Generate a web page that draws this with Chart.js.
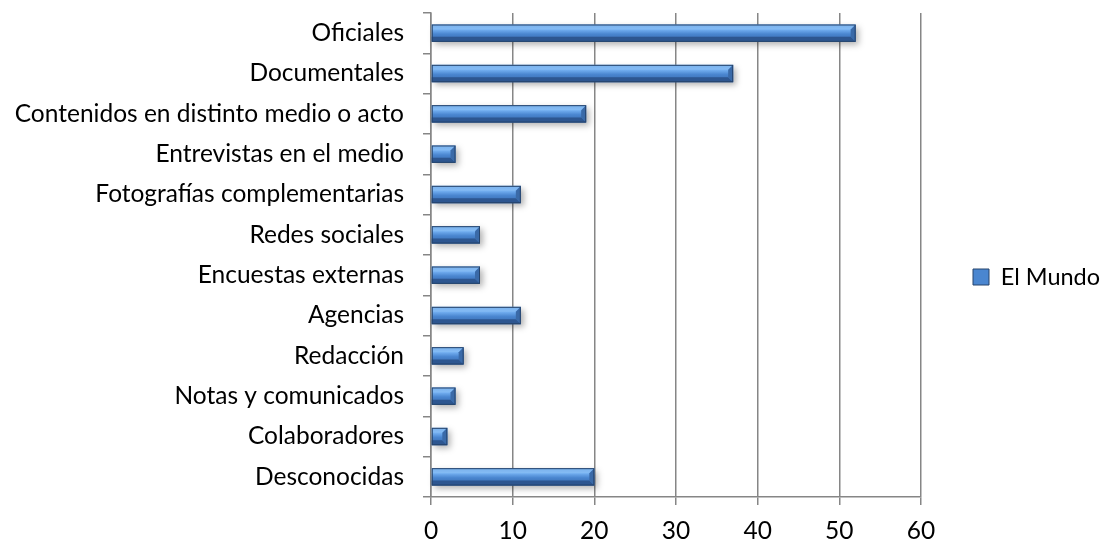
<!DOCTYPE html>
<html>
<head>
<meta charset="utf-8">
<script src="https://cdn.jsdelivr.net/npm/chart.js@4.4.0/dist/chart.umd.min.js"></script>
<style>
  html, body { margin: 0; padding: 0; background: #fff; }
  #wrap { width: 1102px; height: 541px; }
</style>
</head>
<body>
<div id="wrap"><canvas id="myChart" width="1102" height="541"></canvas></div>
<script>
const categories = ['Oficiales', 'Documentales', 'Contenidos en distinto medio o acto',
  'Entrevistas en el medio', 'Fotografías complementarias', 'Redes sociales',
  'Encuestas externas', 'Agencias', 'Redacción', 'Notas y comunicados',
  'Colaboradores', 'Desconocidas'];
const elMundo = [52, 37, 19, 3, 11, 6, 6, 11, 4, 3, 2, 20];
const xTicks = [0, 10, 20, 30, 40, 50, 60];

const fontFamily = 'Lato, "Open Sans", sans-serif';
const fontSize = 24.5;

// bevelled look for each bar, drawn over the library's own bar elements
const bevelPlugin = {
    id: 'bevel',
    afterDatasetsDraw(chart) {
        const ctx = chart.ctx;
        const meta = chart.getDatasetMeta(0);
        meta.data.forEach((bar) => {
            const p = bar.getProps(['x', 'y', 'base', 'height'], true);
            const left = p.base, right = p.x;
            const top = p.y - p.height / 2, bottom = p.y + p.height / 2;
            const b = 5;

            ctx.save();
            // shadow + body
            ctx.shadowColor = 'rgba(0,0,0,0.3)';
            ctx.shadowBlur = 6;
            ctx.shadowOffsetX = 3;
            ctx.shadowOffsetY = 3;
            const g = ctx.createLinearGradient(0, top, 0, bottom);
            g.addColorStop(0, '#5a95dc');
            g.addColorStop(0.3, '#72aef0');
            g.addColorStop(0.55, '#4a86d0');
            g.addColorStop(1, '#3566a8');
            ctx.fillStyle = g;
            ctx.fillRect(left, top, right - left, bottom - top);
            ctx.restore();

            ctx.save();
            // top bevel
            ctx.fillStyle = 'rgba(150,200,250,0.55)';
            ctx.beginPath();
            ctx.moveTo(left, top);
            ctx.lineTo(right, top);
            ctx.lineTo(right - b, top + b);
            ctx.lineTo(left, top + b);
            ctx.closePath();
            ctx.fill();
            // bottom bevel
            ctx.fillStyle = '#2d5690';
            ctx.beginPath();
            ctx.moveTo(left, bottom);
            ctx.lineTo(right, bottom);
            ctx.lineTo(right - b, bottom - b);
            ctx.lineTo(left, bottom - b);
            ctx.closePath();
            ctx.fill();
            // right end
            ctx.fillStyle = '#3a6aa8';
            ctx.beginPath();
            ctx.moveTo(right, top);
            ctx.lineTo(right, bottom);
            ctx.lineTo(right - b, bottom - b);
            ctx.lineTo(right - b, top + b);
            ctx.closePath();
            ctx.fill();
            ctx.strokeStyle = '#26446c';
            ctx.lineWidth = 1;
            ctx.strokeRect(left + 0.5, top + 0.5, right - left - 1, bottom - top - 1);
            ctx.restore();
        });
    }
};

const ctx = document.getElementById('myChart').getContext('2d');
const chart = new Chart(ctx, {
    type: 'bar',
    data: {
        labels: categories,
        datasets: [{
            label: 'El Mundo',
            data: elMundo,
            backgroundColor: 'rgba(0,0,0,0)',
            borderWidth: 0,
            categoryPercentage: 1,
            barPercentage: 0.43
        }]
    },
    options: {
        indexAxis: 'y',
        responsive: false,
        animation: false,
        layout: { padding: { top: 13, right: 0, bottom: 0, left: 0 } },
        plugins: {
            legend: {
                position: 'right',
                maxWidth: 181,
                labels: {
                    font: { family: fontFamily, size: 23.5 },
                    color: '#000',
                    boxWidth: 16,
                    boxHeight: 16,
                    padding: 52,
                    generateLabels: () => [{
                        text: 'El Mundo',
                        fillStyle: '#4a86d0',
                        strokeStyle: '#26446c',
                        lineWidth: 1,
                        datasetIndex: 0
                    }]
                }
            },
            tooltip: { enabled: false }
        },
        scales: {
            x: {
                min: 0,
                max: 60,
                afterBuildTicks: (scale) => { scale.ticks = xTicks.map((v) => ({ value: v })); },
                afterFit: (scale) => { scale.height = 44; },
                grid: { color: '#868686', lineWidth: 1.5, tickLength: 8 },
                border: { color: '#868686', width: 1.5 },
                ticks: { font: { family: fontFamily, size: fontSize }, color: '#000', padding: 11 }
            },
            y: {
                afterFit: (scale) => {
                    scale.width = 431;
                    scale.paddingTop = 0;
                    scale.paddingBottom = 0;
                },
                grid: { drawOnChartArea: false, color: '#868686', lineWidth: 1.5, tickLength: 8, offset: true },
                border: { color: '#868686', width: 1.5 },
                ticks: { font: { family: fontFamily, size: fontSize }, color: '#000', padding: 19, autoSkip: false }
            }
        }
    },
    plugins: [bevelPlugin]
});
</script>
</body>
</html>
